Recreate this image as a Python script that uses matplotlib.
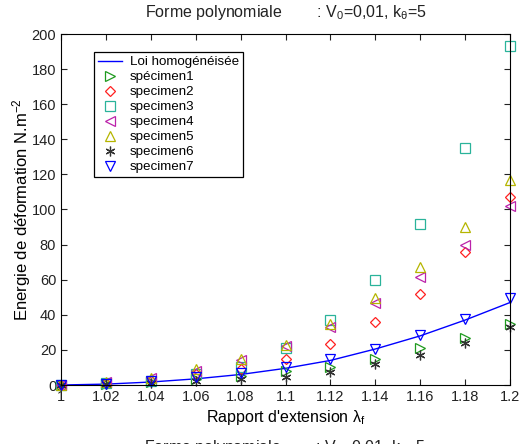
import numpy as np
import matplotlib.pyplot as plt

plt.rcParams['font.family'] = ['Liberation Sans', 'DejaVu Sans']
plt.rcParams['mathtext.fontset'] = 'custom'
plt.rcParams['mathtext.rm'] = 'Liberation Sans'
plt.rcParams['mathtext.it'] = 'Liberation Sans'

# rapport d'extension
lam = [1.0, 1.02, 1.04, 1.06, 1.08, 1.1, 1.12, 1.14, 1.16, 1.18, 1.2]

loi = [0, 0.5, 1.7, 3.5, 6.0, 9.5, 14.0, 20.5, 28.0, 37.0, 47.0]
spec1 = [0, 0.5, 1.5, 3.4, 5.0, 8.0, 10.5, 15.0, 21.0, 27.0, 35.0]
spec2 = [0, 1.0, 2.5, 6.0, 9.0, 15.0, 23.5, 36.0, 52.0, 76.0, 107.0]
spec3 = [0, 1.0, 2.5, 6.0, 10.0, 21.0, 37.0, 60.0, 92.0, 135.0, 193.0]
spec4 = [0, 1.5, 4.0, 8.0, 14.0, 22.0, 33.0, 46.5, 61.5, 80.0, 102.0]
spec5 = [0, 1.5, 4.0, 9.0, 15.0, 23.0, 35.0, 49.5, 67.0, 90.0, 117.0]
spec6 = [0, 0.3, 1.0, 2.0, 3.5, 4.5, 7.5, 12.0, 17.0, 24.0, 33.0]
spec7 = [0, 0.5, 2.0, 4.7, 7.0, 10.0, 15.0, 20.5, 28.5, 37.5, 49.5]

series = [
    ("spécimen1", spec1, '>', '#1f9a1f'),
    ("specimen2", spec2, 'D', '#ff2020'),
    ("specimen3", spec3, 's', '#2ab39a'),
    ("specimen4", spec4, '<', '#bb22aa'),
    ("specimen5", spec5, '^', '#b5b500'),
    ("specimen6", spec6, (6, 2, 0), '#333333'),
    ("specimen7", spec7, 'v', '#0000ff'),
]

fig = plt.figure(figsize=(5.22, 4.44), dpi=100)
ax = fig.add_axes([61 / 522, 59 / 444, 449 / 522, 351 / 444])

ax.plot(lam, loi, '-', color='#0000ff', lw=1.0, label="Loi homogénéisée")
for name, vals, mk, col in series:
    ms = 5.5 if mk == 'D' else 7
    if mk == 's':
        ms = 6.5
    ax.plot(lam, vals, linestyle='none', marker=mk, ms=ms, mfc='none',
            mec=col, mew=0.9, color=col, label=name, clip_on=False)

ax.set_xlim(1, 1.2)
ax.set_ylim(0, 200)
ax.set_xticks(lam)
ax.set_xticklabels(['1', '1.02', '1.04', '1.06', '1.08', '1.1', '1.12',
                    '1.14', '1.16', '1.18', '1.2'])
ax.set_yticks(np.arange(0, 201, 20))
ax.tick_params(direction='in', top=True, right=True, labelsize=10.5,
               length=4, width=0.8, colors='#222222')
for s in ax.spines.values():
    s.set_linewidth(0.8)

ax.set_xlabel("Rapport d'extension $\\lambda_{f}$", fontsize=11.5, labelpad=3)
ax.set_ylabel("Energie de déformation N.m$^{-2}$", fontsize=12, labelpad=-1)
ax.set_title("Forme polynomiale        : V$_0$=0,01, k$_{\\theta}$=5",
             fontsize=11.5, pad=12, color='#222222')

fig.text(285 / 522, -8 / 444, "Forme polynomiale        : V$_0$=0,01, k$_{\\theta}$=5",
         fontsize=11.5, ha='center', va='baseline', color='#222222')

leg = ax.legend(loc='upper left', bbox_to_anchor=(0.0735, 0.949),
                borderaxespad=0, fontsize=9.6, fancybox=False,
                edgecolor='black', framealpha=1, labelspacing=0.2,
                handlelength=1.8, handletextpad=0.6, borderpad=0.3)
leg.get_frame().set_linewidth(0.9)

fig.savefig("out.png", dpi=100)
